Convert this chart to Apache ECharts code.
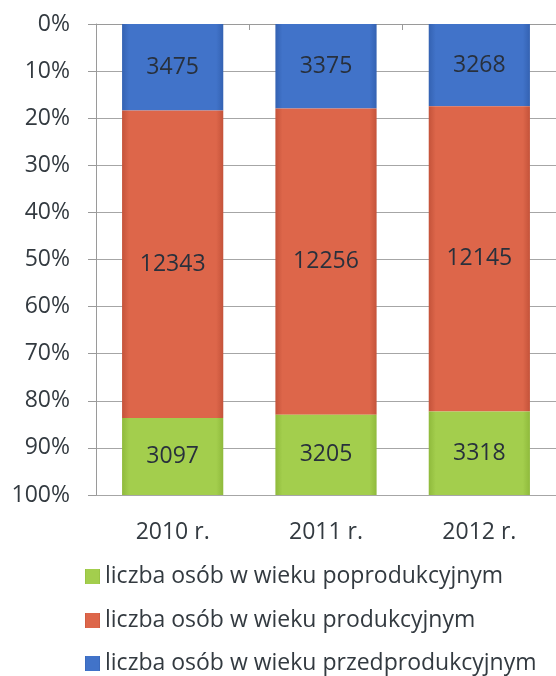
<!DOCTYPE html>
<html><head><meta charset="utf-8">
<script src="https://cdn.jsdelivr.net/npm/echarts@6/dist/echarts.min.js"></script>
<style>html,body{margin:0;padding:0;background:#fff}#c{width:556px;height:676px}</style>
</head><body><div id="c"></div>
<script>
const categories = ['2010 r.', '2011 r.', '2012 r.'];
const przedprodukcyjny = [3475, 3375, 3268];
const produkcyjny = [12343, 12256, 12145];
const poprodukcyjny = [3097, 3205, 3318];
const yTicks = [0,10,20,30,40,50,60,70,80,90,100];
const seriesNames = ['liczba osób w wieku przedprodukcyjnym', 'liczba osób w wieku produkcyjnym', 'liczba osób w wieku poprodukcyjnym'];

const totals = categories.map((_, i) => przedprodukcyjny[i] + produkcyjny[i] + poprodukcyjny[i]);
const toPct = arr => arr.map((v, i) => ({ value: v / totals[i] * 100, raw: v }));

function grad(mid, edge) {
  return new echarts.graphic.LinearGradient(0, 0, 1, 0, [
    { offset: 0, color: edge }, { offset: 0.07, color: mid }, { offset: 0.93, color: mid }, { offset: 1, color: edge }
  ]);
}
const font = '"Open Sans", sans-serif';
const txt = '#333a40';
const labelCfg = { show: true, position: 'inside', formatter: p => p.data.raw, color: '#28303c', fontSize: 23, fontFamily: font };
const mk = (name, arr, color, edge) => ({
  name, type: 'bar', stack: 's', barWidth: '66%', data: toPct(arr),
  itemStyle: { color: grad(color, edge) }, label: labelCfg, emphasis: { disabled: true }
});
const legendRow = (name, top) => ({
  orient: 'vertical', left: 85, top, padding: 0, itemWidth: 15, itemHeight: 15, icon: 'rect',
  data: [name], selectedMode: false,
  textStyle: { fontSize: 23, lineHeight: 23, fontFamily: font, color: txt, padding: [0, 0, 0, 0] }
});

const chart = echarts.init(document.getElementById('c'));
chart.setOption({
  animation: false,
  backgroundColor: '#fff',
  grid: { left: 96, right: -6, top: 24, bottom: 181 },
  legend: [
    legendRow(seriesNames[2], 565),
    legendRow(seriesNames[1], 609),
    legendRow(seriesNames[0], 652)
  ],
  xAxis: {
    type: 'category', data: categories, position: 'bottom',
    axisLine: { lineStyle: { color: '#9a9a9a' } },
    axisTick: { show: true, length: 6, lineStyle: { color: '#9a9a9a' } },
    axisLabel: { fontSize: 23, fontFamily: font, color: txt, margin: 26 }
  },
  yAxis: {
    type: 'value', inverse: true, min: 0, max: 100, interval: 10,
    axisLine: { show: true, lineStyle: { color: '#9a9a9a' } },
    axisTick: { show: true, length: 8, lineStyle: { color: '#9a9a9a' } },
    splitLine: { lineStyle: { color: '#a6a6a6' } },
    axisLabel: { fontSize: 23, fontFamily: font, color: txt, margin: 26, formatter: v => yTicks.includes(v) ? v + '%' : '' }
  },
  series: [
    mk(seriesNames[0], przedprodukcyjny, '#4173c9', '#3462b2'),
    mk(seriesNames[1], produkcyjny, '#dd664a', '#c4533a'),
    mk(seriesNames[2], poprodukcyjny, '#a3ce4d', '#8fba3c')
  ]
});
</script></body></html>
